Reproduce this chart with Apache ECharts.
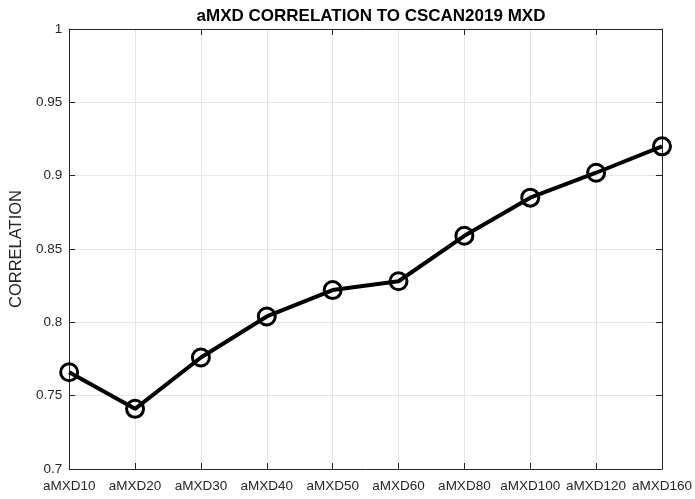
<!DOCTYPE html>
<html><head><meta charset="utf-8">
<script src="https://cdn.jsdelivr.net/npm/echarts@6/dist/echarts.min.js"></script>
<style>html,body{margin:0;padding:0;background:#fff}#c{width:695px;height:499px}</style>
</head><body><div id="c"></div>
<script>
const categories = ['aMXD10','aMXD20','aMXD30','aMXD40','aMXD50','aMXD60','aMXD80','aMXD100','aMXD120','aMXD160'];
const correlation = [0.766, 0.741, 0.776, 0.804, 0.822, 0.828, 0.859, 0.885, 0.902, 0.920];
const yTicks = [0.7, 0.75, 0.8, 0.85, 0.9, 0.95, 1];

const font = 'Liberation Sans, Arial, Helvetica, sans-serif';
const chart = echarts.init(document.getElementById('c'), null, {renderer:'canvas'});
const axisLineStyle = {color:'#262626', width:1};
chart.setOption({
  animation:false,
  title:{text:'aMXD CORRELATION TO CSCAN2019 MXD', left:366, top:3, textAlign:'center',
    textStyle:{fontFamily:font, fontSize:17, fontWeight:'bold', color:'#000'}},
  grid:{left:69, right:31, top:29, bottom:30, containLabel:false},
  xAxis:[{
    type:'category', data:categories, boundaryGap:false,
    axisLine:{show:true, lineStyle:axisLineStyle},
    axisTick:{show:true, inside:true, length:6, alignWithLabel:true, lineStyle:axisLineStyle},
    axisLabel:{fontFamily:font, fontSize:13.5, color:'#262626', margin:10, interval:0},
    splitLine:{show:true, lineStyle:{color:'#e6e6e6', width:1}}
  },{
    type:'category', data:categories, boundaryGap:false, position:'top',
    axisLine:{show:true, lineStyle:axisLineStyle},
    axisTick:{show:true, inside:true, length:6, lineStyle:axisLineStyle},
    axisLabel:{show:false}, splitLine:{show:false}
  }],
  yAxis:[{
    type:'value', min:0.7, max:1, interval:0.05,
    name:'CORRELATION', nameLocation:'middle', nameGap:41,
    nameTextStyle:{fontFamily:font, fontSize:16.5, color:'#262626'},
    axisLine:{show:true, lineStyle:axisLineStyle},
    axisTick:{show:true, inside:true, length:6, lineStyle:axisLineStyle},
    axisLabel:{fontFamily:font, fontSize:13.5, color:'#262626', margin:7,
      formatter:function(v){return String(+v.toFixed(2));}},
    splitLine:{show:true, lineStyle:{color:'#e6e6e6', width:1}}
  },{
    type:'value', min:0.7, max:1, interval:0.05, position:'right',
    axisLine:{show:true, lineStyle:axisLineStyle},
    axisTick:{show:true, inside:true, length:6, lineStyle:axisLineStyle},
    axisLabel:{show:false}, splitLine:{show:false}
  }],
  series:[{
    type:'line', data:correlation, xAxisIndex:0, yAxisIndex:0,
    symbol:'circle', symbolSize:17,
    lineStyle:{color:'#000', width:4},
    itemStyle:{color:'rgba(0,0,0,0)', borderColor:'#000', borderWidth:3},
    z:5
  }]
});
</script></body></html>
